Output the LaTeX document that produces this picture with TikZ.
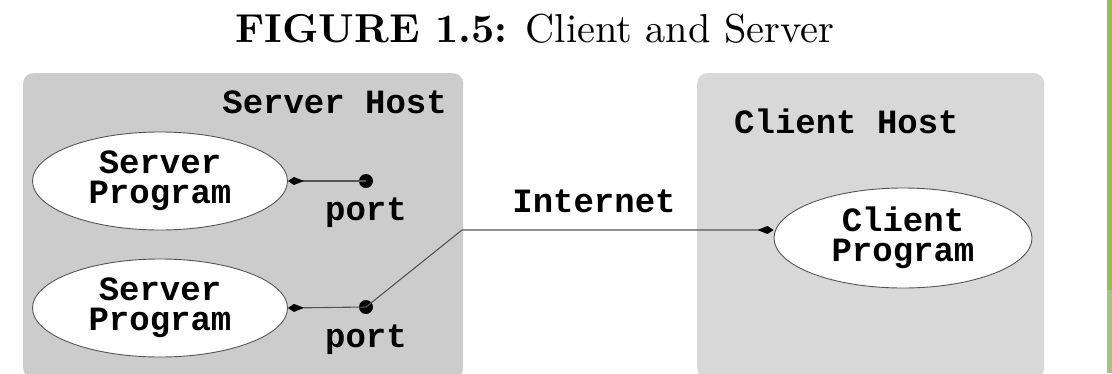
\documentclass[tikz,border=0pt]{standalone}
\usepackage{fontspec}
\setmonofont{Liberation Mono}
\newfontfamily\titlefont{lmroman10-regular.otf}[BoldFont=lmroman10-bold.otf]
\usetikzlibrary{arrows.meta,shapes.geometric}
\definecolor{leftgray}{HTML}{CCCCCC}
\definecolor{rightgray}{HTML}{D8D8D8}
\definecolor{linegray}{HTML}{555555}
\definecolor{stripgreen}{HTML}{8CC43F}
\definecolor{stripgreenlt}{HTML}{A2C776}
\newcommand\monotext{\ttfamily\bfseries\fontsize{34}{30}\selectfont}
\tikzset{
  hostbox/.style={rounded corners=10pt, inner sep=0pt, draw=none},
  prog/.style={ellipse, draw=linegray, line width=0.9pt, fill=white, inner sep=0pt,
    align=center, font=\monotext},
  portdot/.style={circle, fill=black, inner sep=0pt, minimum size=14pt},
  lbl/.style={font=\monotext, inner sep=0pt},
  conn/.style={draw=linegray, line width=1.1pt},
  arr/.style={conn, -{Kite[length=16pt,width=8pt,inset=10pt,fill=black,color=black]}}
}
\begin{document}
\begin{tikzpicture}[x=1pt,y=-1pt]
\useasboundingbox (0,0) rectangle (1112,373);
\fill[white] (0,0) rectangle (1112,373);
% green strip
\fill[stripgreen] (1107,0) rectangle (1112,373);
\fill[stripgreenlt] (1107,290) rectangle (1112,373);
% title
\node[anchor=base, inner sep=0pt, font=\titlefont\fontsize{40.4}{48}\selectfont] (title) at (535,42)
  {\textbf{FIGURE 1.5:} Client and Server};
% host boxes
\node[hostbox, fill=leftgray, anchor=north west, minimum width=440pt, minimum height=305pt] (shost) at (23,73) {};
\node[hostbox, fill=rightgray, anchor=north west, minimum width=347pt, minimum height=305pt] (chost) at (697,73) {};
\node[lbl, anchor=base east] (shlabel) at (447,113) {Server Host};
\node[lbl, anchor=base west] (chlabel) at (734,133) {Client Host};
% programs
\node[prog, minimum width=255pt, minimum height=98pt] (s1) at (160,181) {Server\\Program};
\node[prog, minimum width=255pt, minimum height=98pt] (s2) at (160,308) {Server\\Program};
\node[prog, minimum width=258pt, minimum height=100pt] (c) at (903,238) {Client\\Program};
% ports
\node[portdot] (p1) at (366,181) {};
\node[portdot] (p2) at (366,307) {};
\node[lbl, anchor=base] (pl1) at (366,220) {port};
\node[lbl, anchor=base] (pl2) at (366,347) {port};
% connectors
\draw[arr] (p1.center) -- (s1.east);
\draw[arr] (p2.center) -- (s2.east);
\coordinate (bend) at (462,230);
\draw[arr] (p2.center) -- (bend) -- (bend -| c.west);
\node[lbl, anchor=base] (inet) at (594,212) {Internet};
\end{tikzpicture}
\end{document}
